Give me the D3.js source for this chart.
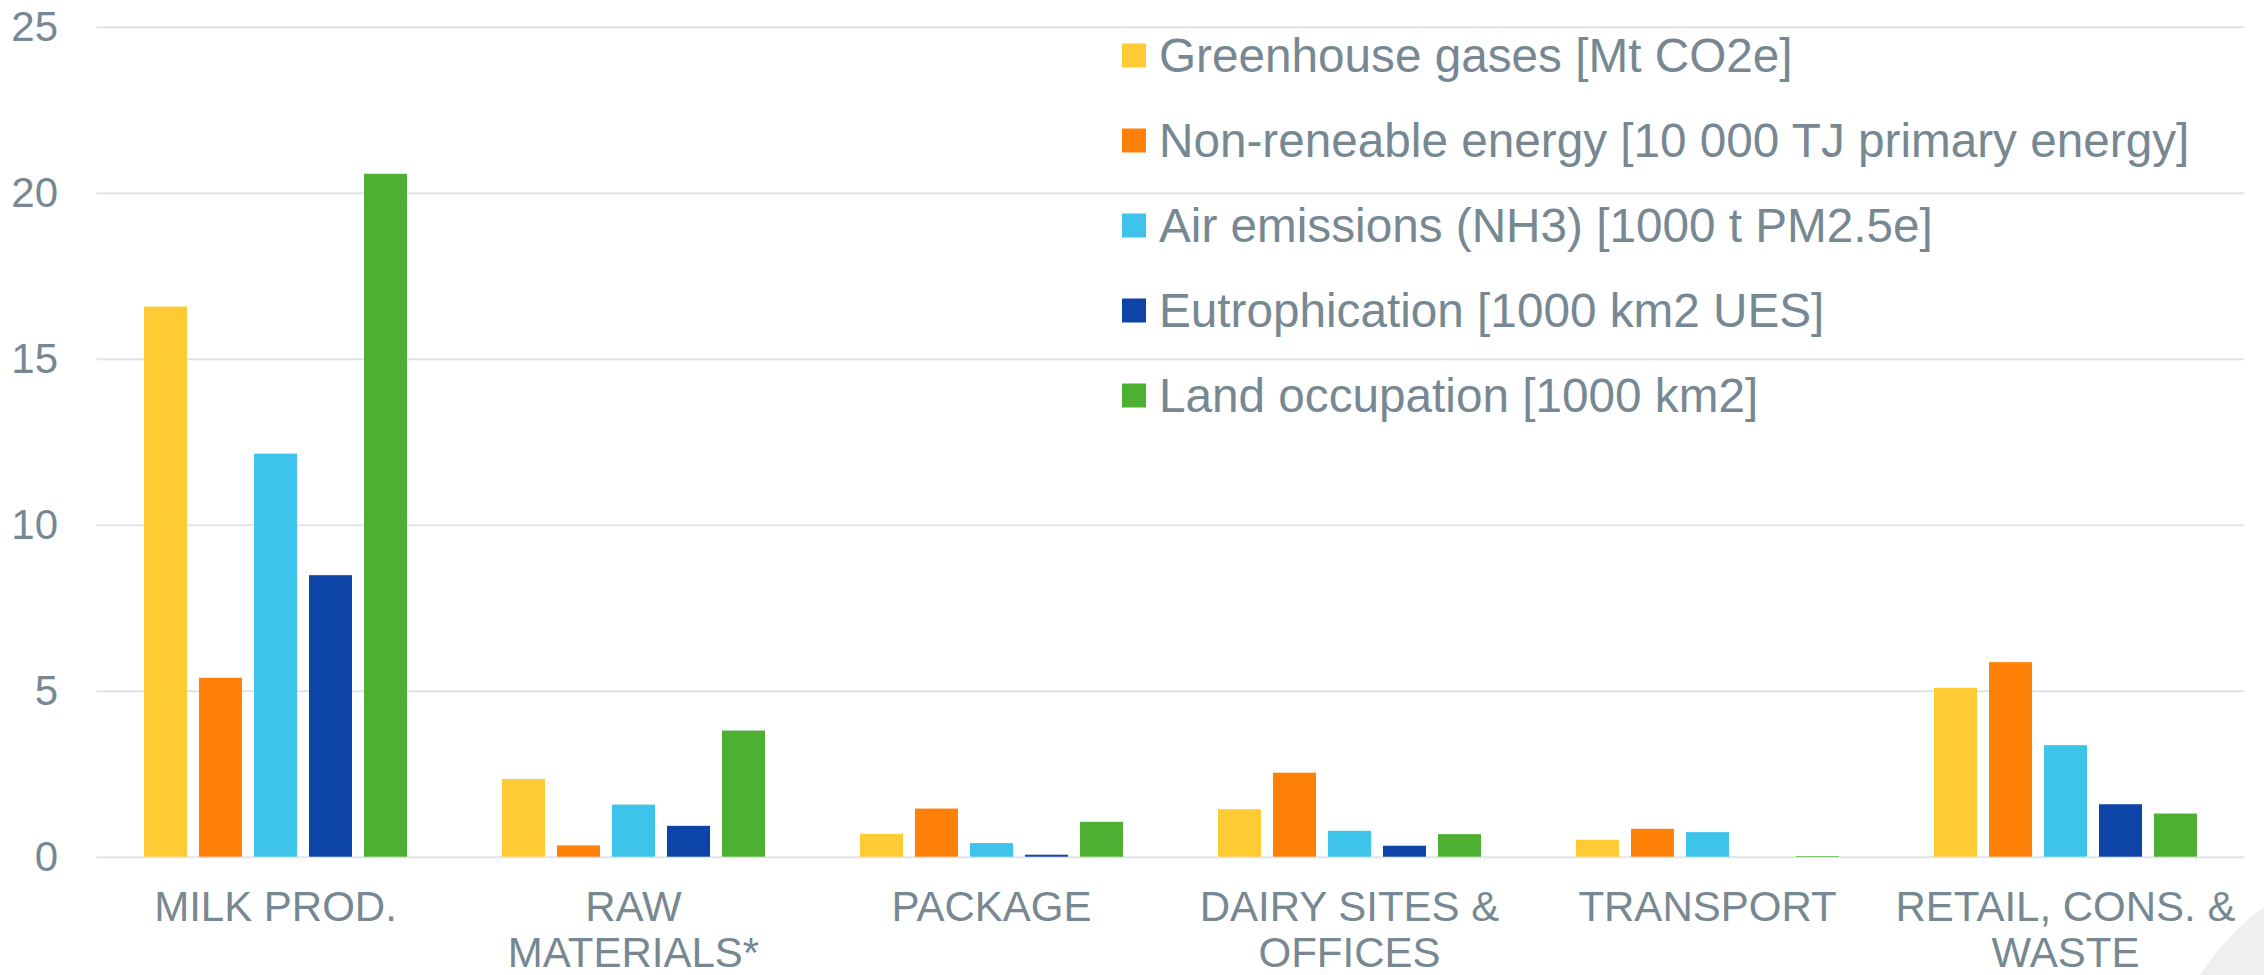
<!DOCTYPE html>
<html>
<head>
<meta charset="utf-8">
<script src="https://cdn.jsdelivr.net/npm/d3@7"></script>
<style>
  html, body { margin: 0; padding: 0; background: #fff; }
  svg { display: block; font-family: Arial, "Liberation Sans", sans-serif; }
</style>
</head>
<body>
<div id="chart"></div>
<script>
// categories along the x axis ("\n" = line break in the label)
const categories = [
  "MILK PROD.",
  "RAW\nMATERIALS*",
  "PACKAGE",
  "DAIRY SITES &\nOFFICES",
  "TRANSPORT",
  "RETAIL, CONS. &\nWASTE"
];

const seriesNames = [
  "Greenhouse gases [Mt CO2e]",
  "Non-reneable energy [10 000 TJ primary energy]",
  "Air emissions (NH3) [1000 t PM2.5e]",
  "Eutrophication [1000 km2 UES]",
  "Land occupation [1000 km2]"
];

// one value per category, same order as categories
const greenhouse = [16.57, 2.34, 0.69, 1.43, 0.51, 5.09];
const nonRenewable = [5.39, 0.34, 1.45, 2.53, 0.84, 5.86];
const airEmissions = [12.14, 1.57, 0.41, 0.78, 0.74, 3.36];
const eutrophication = [8.48, 0.93, 0.06, 0.33, 0, 1.58];
const landOccupation = [20.57, 3.80, 1.05, 0.68, 0.02, 1.30];

const yTicks = [0, 5, 10, 15, 20, 25];

const colors = ["#FFCB34", "#FF8007", "#3EC4EA", "#0D44A8", "#4DB033"];

const seriesValues = [greenhouse, nonRenewable, airEmissions, eutrophication, landOccupation];

const width = 2264, height = 975;
const margin = { top: 26.7, left: 96.5, right: 19.5, bottom: 118.3 };
const textColor = "#778892";
const gridColor = "#E0E4E7";

const svg = d3.select("#chart").append("svg")
  .attr("width", width)
  .attr("height", height);

// decorative slide shape in the corner
svg.append("circle")
  .attr("cx", 2424)
  .attr("cy", 1122)
  .attr("r", 268)
  .style("fill", "#EFEFEF");

const x0 = d3.scaleBand()
  .domain(categories)
  .range([margin.left, width - margin.right])
  .paddingInner(0)
  .paddingOuter(0);

const groupWidth = 263;
const x1 = d3.scaleBand()
  .domain(d3.range(seriesNames.length))
  .range([(x0.bandwidth() - groupWidth) / 2, (x0.bandwidth() + groupWidth) / 2])
  .paddingInner(0.218)
  .paddingOuter(0);

const y = d3.scaleLinear()
  .domain([0, 25])
  .range([height - margin.bottom, margin.top]);

// y axis with gridlines
let yAxis = svg.append("g")
  .attr("transform", "translate(" + margin.left + ",0)")
  .call(d3.axisLeft(y)
    .tickValues(yTicks)
    .tickSize(-(width - margin.left - margin.right))
    .tickPadding(38.5));

yAxis.select(".domain").remove();
yAxis.selectAll(".tick line")
  .style("stroke", gridColor)
  .style("stroke-width", 2);
yAxis.selectAll(".tick text")
  .style("fill", textColor)
  .style("font-size", "42px")
  .style("font-family", "Arial, 'Liberation Sans', sans-serif");

// bars
let groups = svg.selectAll(".group")
  .data(categories)
  .enter()
  .append("g")
  .attr("class", "group")
  .attr("transform", d => "translate(" + x0(d) + ",0)");

groups.selectAll("rect")
  .data((d, ci) => seriesValues.map((vals, si) => ({ si: si, v: vals[ci] })))
  .enter()
  .append("rect")
  .attr("x", d => x1(d.si))
  .attr("width", x1.bandwidth())
  .attr("y", d => y(d.v))
  .attr("height", d => y(0) - y(d.v))
  .style("fill", d => colors[d.si]);

// x axis labels
let xAxis = svg.append("g")
  .attr("transform", "translate(0," + y(0) + ")")
  .call(d3.axisBottom(x0).tickSize(0).tickFormat(""));

xAxis.select(".domain").remove();
xAxis.selectAll(".tick").each(function (d) {
  let lines = d.split("\n");
  let t = d3.select(this).append("text")
    .attr("text-anchor", "middle")
    .style("fill", textColor)
    .style("font-size", "42px");
  lines.forEach((line, i) => {
    t.append("tspan")
      .attr("x", 0)
      .attr("y", 64 + i * 46)
      .text(line);
  });
});

// legend
let legend = svg.append("g")
  .attr("transform", "translate(1122,0)");

let items = legend.selectAll(".item")
  .data(seriesNames)
  .enter()
  .append("g")
  .attr("class", "item")
  .attr("transform", (d, i) => "translate(0," + (55.5 + i * 85) + ")");

items.append("rect")
  .attr("x", 0)
  .attr("y", -12)
  .attr("width", 24)
  .attr("height", 24)
  .style("fill", (d, i) => colors[i]);

items.append("text")
  .attr("x", 37)
  .attr("y", 16.5)
  .style("fill", textColor)
  .style("font-size", "47.7px")
  .text(d => d);
</script>
</body>
</html>
